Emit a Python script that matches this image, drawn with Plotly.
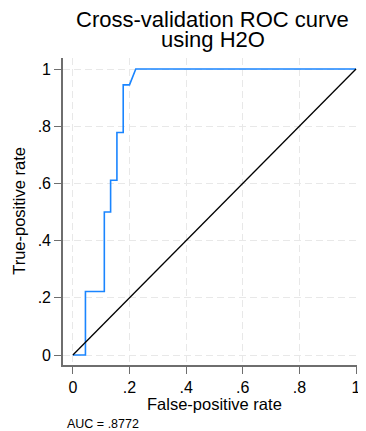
import plotly.graph_objects as go

# ROC curve data (false-positive rate, true-positive rate)
fpr = [0.0, 0.0444, 0.0444, 0.1111, 0.1111, 0.1333, 0.1333, 0.1556, 0.1556, 0.1778, 0.1778, 0.2, 0.2222, 1.0]
tpr = [0.0, 0.0, 0.2222, 0.2222, 0.5, 0.5, 0.6111, 0.6111, 0.7778, 0.7778, 0.9444, 0.9444, 1.0, 1.0]
ref_x = [0, 1]
ref_y = [0, 1]
tick_vals = [0, 0.2, 0.4, 0.6, 0.8, 1]
tick_text = ["0", ".2", ".4", ".6", ".8", "1"]
title_lines = ["Cross-validation ROC curve", "using H2O"]
x_title = "False-positive rate"
y_title = "True-positive rate"
auc_text = "AUC = .8772"

# page offset of the figure inside the html body (default body margin)
OFF = 8
W, H = 366 - OFF, 431 - OFF
L, R, T, B = 55, 5, 50, 66
PW, PH = W - L - R, H - T - B


def px(X):  # page x -> paper x
    return (X - OFF - L) / PW


def py(Y):  # page y -> paper y
    return (H - B - (Y - OFF)) / PH


fig = go.Figure()
fig.add_trace(go.Scatter(x=fpr, y=tpr, mode="lines",
                         line=dict(color="#1a85ff", width=1.6), showlegend=False))
fig.add_trace(go.Scatter(x=ref_x, y=ref_y, mode="lines",
                         line=dict(color="#000000", width=1.3), showlegend=False))

font = "Liberation Sans, Arial, sans-serif"
axis_common = dict(
    tickvals=tick_vals, ticktext=tick_text,
    showgrid=True, gridcolor="#e8e8e8", gridwidth=1, griddash="7px,4px",
    zeroline=False, showline=True, linecolor="#6e6e6e", linewidth=1.6,
    ticks="outside", ticklen=7, tickwidth=1.3, tickcolor="#6e6e6e",
    tickfont=dict(family=font, size=16, color="#000"),
)

fig.update_layout(
    width=W, height=H,
    margin=dict(l=L, r=R, t=T, b=B, pad=0),
    paper_bgcolor="white", plot_bgcolor="white",
    font=dict(family=font, color="#000"),
    xaxis=dict(range=[-10 / 287, 288 / 287], **axis_common),
    yaxis=dict(range=[-10 / 286, 297 / 286], **axis_common),
)

ann = dict(xref="paper", yref="paper", showarrow=False)
fig.add_annotation(text=title_lines[0], x=px(215), y=py(19.3), xanchor="center", yanchor="middle",
                   font=dict(family=font, size=22, color="#000"), **ann)
fig.add_annotation(text=title_lines[1], x=px(215), y=py(39.8), xanchor="center", yanchor="middle",
                   font=dict(family=font, size=22, color="#000"), **ann)
fig.add_annotation(text=x_title, x=px(216.5), y=py(404.2), xanchor="center", yanchor="middle",
                   font=dict(family=font, size=16.5, color="#000"), **ann)
fig.add_annotation(text=y_title, x=px(18.2), y=py(211), xanchor="center", yanchor="middle",
                   textangle=-90, font=dict(family=font, size=16.5, color="#000"), **ann)
fig.add_annotation(text=auc_text, x=px(65), y=py(423.6), xanchor="left", yanchor="middle",
                   font=dict(family=font, size=12.5, color="#000"), **ann)

fig.write_html("out.html")
